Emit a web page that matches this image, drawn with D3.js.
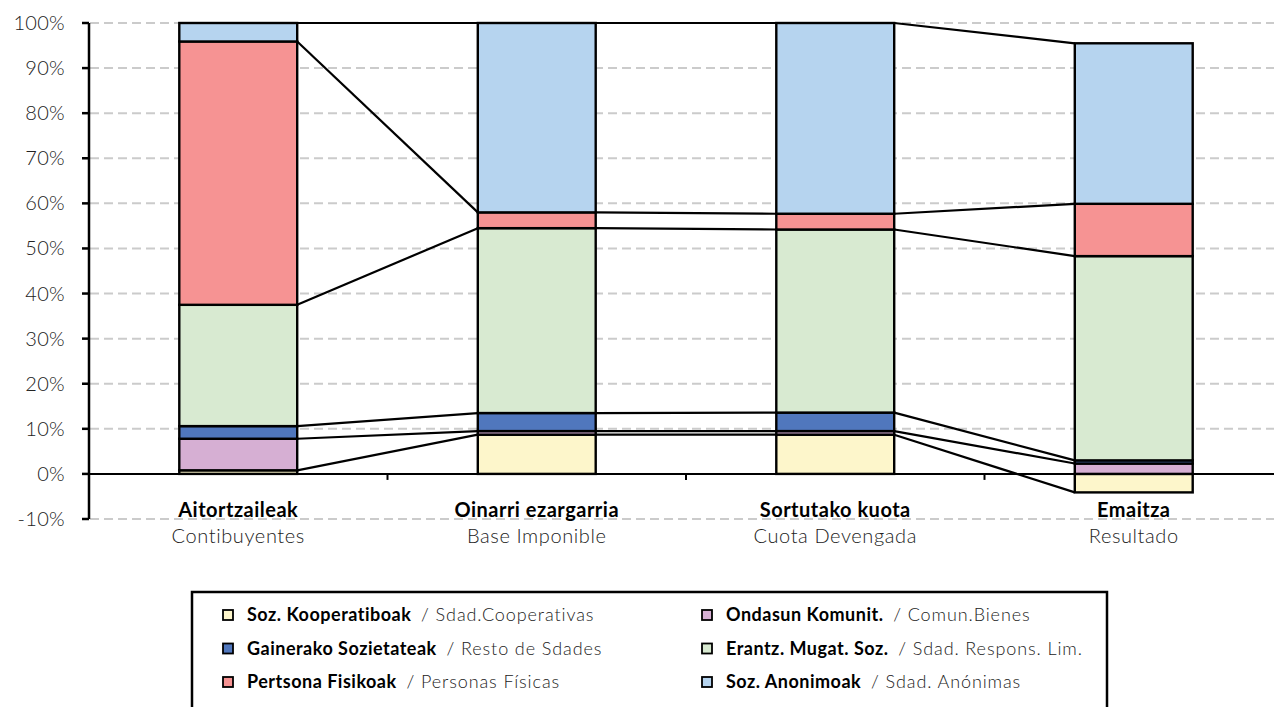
<!DOCTYPE html>
<html>
<head>
<meta charset="utf-8">
<script src="https://cdn.jsdelivr.net/npm/d3@7"></script>
<style>
  html, body { margin: 0; padding: 0; background: #fff; }
  svg { display: block; font-family: Lato, "Open Sans", sans-serif; }
</style>
</head>
<body>
<svg id="chart" width="1274" height="707"></svg>
<script>
// ---- data ----
const categories = ["Aitortzaileak", "Oinarri ezargarria", "Sortutako kuota", "Emaitza"];
const categorySub = ["Contibuyentes", "Base Imponible", "Cuota Devengada", "Resultado"];
const seriesKeys = ["coop", "ondasun", "gainerako", "erantz", "pertsona", "anon"];
const seriesNamesEu = ["Soz. Kooperatiboak", "Ondasun Komunit.", "Gainerako Sozietateak", "Erantz. Mugat. Soz.", "Pertsona Fisikoak", "Soz. Anonimoak"];
const seriesNamesEs = ["Sdad.Cooperativas", "Comun.Bienes", "Resto de Sdades", "Sdad. Respons. Lim.", "Personas Físicas", "Sdad. Anónimas"];
const seriesColors = ["#fdf6cb", "#d6afd3", "#5077bd", "#d8ead1", "#f69393", "#b6d4ef"];
const coop      = [0.8, 8.7, 8.7, -4.1];
const ondasun   = [7.0, 0.8, 0.8, 2.3];
const gainerako = [2.8, 4.0, 4.1, 0.7];
const erantz    = [26.9, 41.0, 40.6, 45.3];
const pertsona  = [58.4, 3.5, 3.5, 11.6];
const anon      = [4.1, 42.0, 42.3, 35.6];
const yTicks = [-10, 0, 10, 20, 30, 40, 50, 60, 70, 80, 90, 100];

const seriesValues = {coop, ondasun, gainerako, erantz, pertsona, anon};
const table = categories.map((c, i) => {
  const row = {cat: c};
  seriesKeys.forEach(k => row[k] = seriesValues[k][i]);
  return row;
});

// ---- layout ----
const svg = d3.select("#chart");
const W = 1274;
const x = d3.scaleBand().domain(categories).range([89, 1283]).padding(0);
const y = d3.scaleLinear().domain([-10, 100]).range([519, 23]);
const barW = x.bandwidth() * 0.395;
const barX = c => x(c) + (x.bandwidth() - barW) / 2;

const stack = d3.stack().keys(seriesKeys).offset(d3.stackOffsetDiverging);
const stacked = stack(table);

// gridlines
svg.append("g").selectAll("line").data(yTicks).join("line")
  .attr("x1", 90).attr("x2", W)
  .attr("y1", d => y(d)).attr("y2", d => y(d))
  .attr("stroke", "#cbcbcb").attr("stroke-width", 2)
  .attr("stroke-dasharray", "9,5");

// series lines
stacked.forEach(s => {
  for (let j = 0; j < s.length - 1; j++) {
    const a = s[j], b = s[j + 1];
    const va = a.data[s.key] >= 0 ? a[1] : a[0];
    const vb = b.data[s.key] >= 0 ? b[1] : b[0];
    svg.append("line")
      .attr("x1", barX(categories[j]) + barW).attr("y1", y(va))
      .attr("x2", barX(categories[j + 1])).attr("y2", y(vb))
      .attr("stroke", "#000").attr("stroke-width", 2.2);
  }
});

// x axis (zero line) + ticks
svg.append("line").attr("x1", 89).attr("x2", W).attr("y1", y(0)).attr("y2", y(0))
  .attr("stroke", "#000").attr("stroke-width", 2);
svg.append("g").selectAll("line").data(categories.slice(1)).join("line")
  .attr("x1", d => x(d)).attr("x2", d => x(d))
  .attr("y1", y(0)).attr("y2", y(0) + 6)
  .attr("stroke", "#000").attr("stroke-width", 2);

// bars
stacked.forEach((s, i) => {
  svg.append("g").selectAll("rect").data(s).join("rect")
    .attr("x", d => barX(d.data.cat))
    .attr("width", barW)
    .attr("y", d => y(d[1]))
    .attr("height", d => Math.max(0, y(d[0]) - y(d[1])))
    .attr("fill", seriesColors[i])
    .attr("stroke", "#000").attr("stroke-width", 2.4);
});

// y axis
svg.append("line").attr("x1", 89).attr("x2", 89).attr("y1", y(100)).attr("y2", y(-10))
  .attr("stroke", "#000").attr("stroke-width", 2.5);
svg.append("g").selectAll("line").data(yTicks).join("line")
  .attr("x1", 82).attr("x2", 89).attr("y1", d => y(d)).attr("y2", d => y(d))
  .attr("stroke", "#000").attr("stroke-width", 2.5);
svg.append("g").selectAll("text").data(yTicks).join("text")
  .attr("x", 65).attr("y", d => y(d))
  .attr("dy", "0.35em").attr("text-anchor", "end")
  .attr("font-size", 20).attr("font-weight", 300).attr("fill", "#222")
  .attr("letter-spacing", 0.3)
  .text(d => d + "%");

// category labels
svg.append("g").selectAll("text").data(categories).join("text")
  .attr("x", d => x(d) + x.bandwidth() / 2).attr("y", 517)
  .attr("text-anchor", "middle").attr("font-size", 20).attr("font-weight", 700).attr("fill", "#000")
  .attr("letter-spacing", 0.5)
  .text(d => d);
svg.append("g").selectAll("text").data(categories).join("text")
  .attr("x", d => x(d) + x.bandwidth() / 2).attr("y", 543)
  .attr("text-anchor", "middle").attr("font-size", 20).attr("font-weight", 300).attr("fill", "#222")
  .attr("letter-spacing", 0.6)
  .text((d, i) => categorySub[i]);

// legend
svg.append("rect").attr("x", 192).attr("y", 592).attr("width", 915).attr("height", 200)
  .attr("fill", "none").attr("stroke", "#000").attr("stroke-width", 2.5);
const legendOrder = [0, 2, 4, 1, 3, 5];
legendOrder.forEach((si, k) => {
  const col = Math.floor(k / 3), row = k % 3;
  const lx = col === 0 ? 223 : 702;
  const ly = 615 + row * 33.5;
  const g = svg.append("g");
  g.append("rect").attr("x", lx).attr("y", ly - 5).attr("width", 10).attr("height", 10)
    .attr("fill", seriesColors[si]).attr("stroke", "#000").attr("stroke-width", 1.8);
  const t = g.append("text").attr("x", lx + 24).attr("y", ly).attr("dy", "0.35em")
    .attr("font-size", 18);
  t.append("tspan").attr("font-weight", 700).attr("fill", "#000").attr("letter-spacing", 0.5)
    .text(seriesNamesEu[si]);
  t.append("tspan").attr("font-weight", 300).attr("fill", "#222").attr("letter-spacing", 0.9)
    .attr("dx", 4).text(" / " + seriesNamesEs[si]);
});
</script>
</body>
</html>
